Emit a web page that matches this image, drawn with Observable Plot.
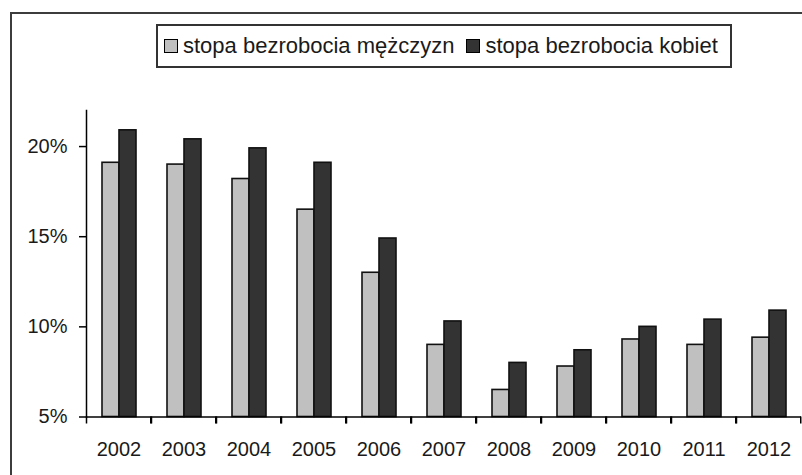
<!DOCTYPE html>
<html><head><meta charset="utf-8">
<script src="https://cdn.jsdelivr.net/npm/d3@7"></script>
<script src="https://cdn.jsdelivr.net/npm/@observablehq/plot@0.6"></script>
<style>
body{margin:0;background:#fff;}
#wrap{position:relative;width:802px;height:475px;overflow:hidden;font-family:"Liberation Sans",Arial,sans-serif;color:#1a1a1a;}
#chart{position:absolute;left:0;top:0;}
#border{position:absolute;left:10px;top:12px;width:1000px;height:1000px;border:2px solid #3c3c3c;box-sizing:border-box;pointer-events:none;}
#legend{position:absolute;left:156px;top:24px;width:576px;height:44px;border:2px solid #333;box-sizing:border-box;background:#fff;display:flex;align-items:center;font-size:22px;padding-left:6px;white-space:nowrap;}
.item{display:flex;align-items:center;margin-right:12px;}
.sw{display:inline-block;width:14px;height:14px;border:1px solid #000;box-sizing:border-box;margin-right:5px;}
</style>
</head><body>
<div id="wrap"><div id="chart"></div><div id="border"></div><div id="legend"></div></div>
<script>
const years = ["2002","2003","2004","2005","2006","2007","2008","2009","2010","2011","2012"];
const seriesNames = ["stopa bezrobocia mężczyzn","stopa bezrobocia kobiet"];
const men   = [19.1, 19.0, 18.2, 16.5, 13.0, 9.0, 6.5, 7.8, 9.3, 9.0, 9.4];
const women = [20.9, 20.4, 19.9, 19.1, 14.9, 10.3, 8.0, 8.7, 10.0, 10.4, 10.9];
const colors = ["#c0c0c0","#333333"];
const yTicks = [5,10,15,20];
const yMin = 5, yMax = 22;

const W=802, H=475, mL=86, mR=1, mT=110, mB=58.5;
const step = (W-mL-mR)/years.length;
const data = years.flatMap((yr,i)=>[
  {year:yr, series:seriesNames[0], value:men[i]},
  {year:yr, series:seriesNames[1], value:women[i]}
]);

const chart = Plot.plot({
  width:W, height:H, marginLeft:mL, marginRight:mR, marginTop:mT, marginBottom:mB,
  style:{background:"transparent", fontFamily:"Liberation Sans, Arial, sans-serif", fontSize:"20px", color:"#1a1a1a"},
  fx:{domain:years, padding:0, axis:null, label:null},
  x:{domain:seriesNames, paddingInner:0, paddingOuter:0.83, axis:null},
  y:{domain:[yMin,yMax], axis:null, label:null},
  color:{domain:seriesNames, range:colors},
  marks:[
    Plot.barY(data,{fx:"year", x:"series", y1:yMin, y2:"value", fill:"series", stroke:"#111", strokeWidth:1.6}),
    Plot.ruleY([yMin],{stroke:"#000", strokeWidth:1.5}),
    Plot.frame({anchor:"left", fx:[years[0]], stroke:"#000", strokeWidth:1.5}),
    Plot.axisY({ticks:yTicks, label:null, tickSize:7, tickPadding:12, tickFormat:d=>d+"%", fontSize:20, stroke:"#000", strokeWidth:1.5}),
    Plot.axisFx({anchor:"bottom", label:null, tickSize:7, tickFormat:()=>"", dx:-step/2, stroke:"#000", strokeWidth:1.5}),
    Plot.axisFx([years[years.length-1]], {anchor:"bottom", label:null, tickSize:7, tickFormat:()=>"", dx:step/2-0.75, stroke:"#000", strokeWidth:1.5}),
    Plot.axisFx({anchor:"bottom", label:null, tickSize:0, tickPadding:25, fontSize:20})
  ]
});
document.getElementById("chart").appendChild(chart);

const legend = document.getElementById("legend");
seriesNames.forEach((s,i)=>{
  const it = document.createElement("span"); it.className="item";
  const sw = document.createElement("span"); sw.className="sw"; sw.style.background=colors[i];
  const t = document.createElement("span"); t.textContent=s;
  it.appendChild(sw); it.appendChild(t); legend.appendChild(it);
});
</script>
</body></html>
